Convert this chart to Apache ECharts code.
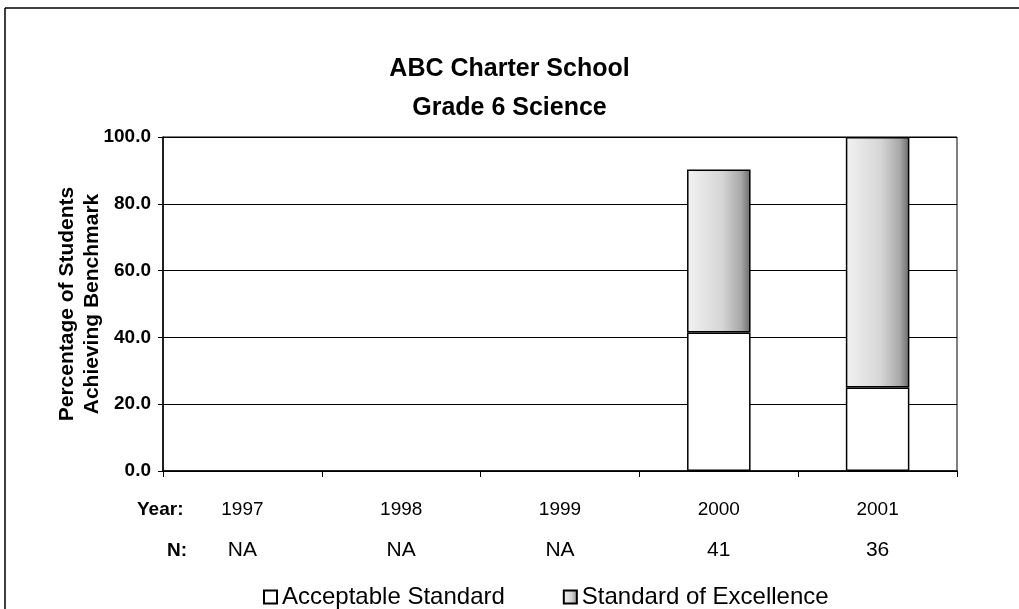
<!DOCTYPE html>
<html>
<head>
<meta charset="utf-8">
<script src="https://cdn.jsdelivr.net/npm/echarts@6/dist/echarts.min.js"></script>
<style>
  html, body { margin: 0; padding: 0; background: #fff; }
  #chart { width: 1019px; height: 609px; }
</style>
</head>
<body>
<div id="chart"></div>
<script>
// data
var years = ['1997', '1998', '1999', '2000', '2001'];
var nCounts = ['NA', 'NA', 'NA', '41', '36'];
var acceptable = [null, null, null, 41.5, 25.0];
var excellence = [null, null, null, 48.8, 75.0];
var yTicks = [0, 20, 40, 60, 80, 100];

var font = 'Arial, "Liberation Sans", sans-serif';

// stippled grey, darker toward the right edge
var excellenceFill = new echarts.graphic.LinearGradient(0, 0, 1, 0, [
  { offset: 0, color: '#f2f2f2' },
  { offset: 0.55, color: '#d6d6d6' },
  { offset: 0.85, color: '#a8a8a8' },
  { offset: 1, color: '#6a6a6a' }
]);

var myChart = echarts.init(document.getElementById('chart'));
myChart.setOption({
  animation: false,
  textStyle: { fontFamily: font, color: '#000' },
  title: {
    text: 'ABC Charter School\nGrade 6 Science',
    left: 'center',
    top: 45,
    textStyle: { fontSize: 25, fontWeight: 'bold', lineHeight: 39, color: '#000', fontFamily: font }
  },
  grid: {
    left: 163, right: 62, top: 137, bottom: 138,
    show: true, borderColor: '#000', borderWidth: 1
  },
  legend: {
    left: 258,
    top: 580,
    itemWidth: 13,
    itemHeight: 13,
    itemGap: 58,
    icon: 'rect',
    textStyle: { fontSize: 24, color: '#000', fontFamily: font },
    data: ['Acceptable Standard', 'Standard of Excellence']
  },
  xAxis: [
    {
      type: 'category',
      data: years,
      position: 'bottom',
      axisLine: { lineStyle: { color: '#000', width: 1.5 } },
      axisTick: { show: true, length: 6, lineStyle: { color: '#000' } },
      axisLabel: { margin: 29, fontSize: 19, color: '#000', fontFamily: font }
    },
    {
      type: 'category',
      data: nCounts,
      position: 'bottom',
      offset: 69,
      axisLine: { show: false },
      axisTick: { show: false },
      axisLabel: { margin: 0, fontSize: 21, color: '#000', fontFamily: font }
    }
  ],
  yAxis: {
    type: 'value',
    min: yTicks[0],
    max: yTicks[yTicks.length - 1],
    interval: 20,
    name: 'Percentage of Students\nAchieving Benchmark',
    nameLocation: 'middle',
    nameGap: 58,
    nameMoveOverlap: false,
    nameRotate: 90,
    nameTextStyle: { fontSize: 21, fontWeight: 'bold', lineHeight: 25, color: '#000', fontFamily: font },
    axisLine: { show: true, lineStyle: { color: '#000', width: 1.5 } },
    axisTick: { show: true, length: 5, lineStyle: { color: '#000' } },
    splitLine: { show: true, lineStyle: { color: '#000', width: 1 } },
    axisLabel: {
      fontSize: 19, fontWeight: 'bold', color: '#000', margin: 12, fontFamily: font,
      formatter: function (v) { return v.toFixed(1); }
    }
  },
  graphic: [
    { type: 'line', shape: { x1: 5, y1: 8, x2: 1019, y2: 8 }, style: { stroke: '#000', lineWidth: 1.5 } },
    { type: 'line', shape: { x1: 5, y1: 8, x2: 5, y2: 609 }, style: { stroke: '#000', lineWidth: 1.5 } },
    { type: 'text', left: 137, top: 500, style: { text: 'Year:', fontSize: 19, fontWeight: 'bold', fill: '#000', fontFamily: font } },
    { type: 'text', left: 167, top: 541, style: { text: 'N:', fontSize: 19, fontWeight: 'bold', fill: '#000', fontFamily: font } }
  ],
  series: [
    {
      name: 'Acceptable Standard',
      type: 'bar',
      stack: 'total',
      barWidth: '40%',
      data: acceptable,
      itemStyle: { color: '#fff', borderColor: '#000', borderWidth: 1.5 }
    },
    {
      name: 'Standard of Excellence',
      type: 'bar',
      stack: 'total',
      barWidth: '40%',
      data: excellence,
      itemStyle: { color: excellenceFill, borderColor: '#000', borderWidth: 1.5 }
    }
  ]
});
</script>
</body>
</html>
